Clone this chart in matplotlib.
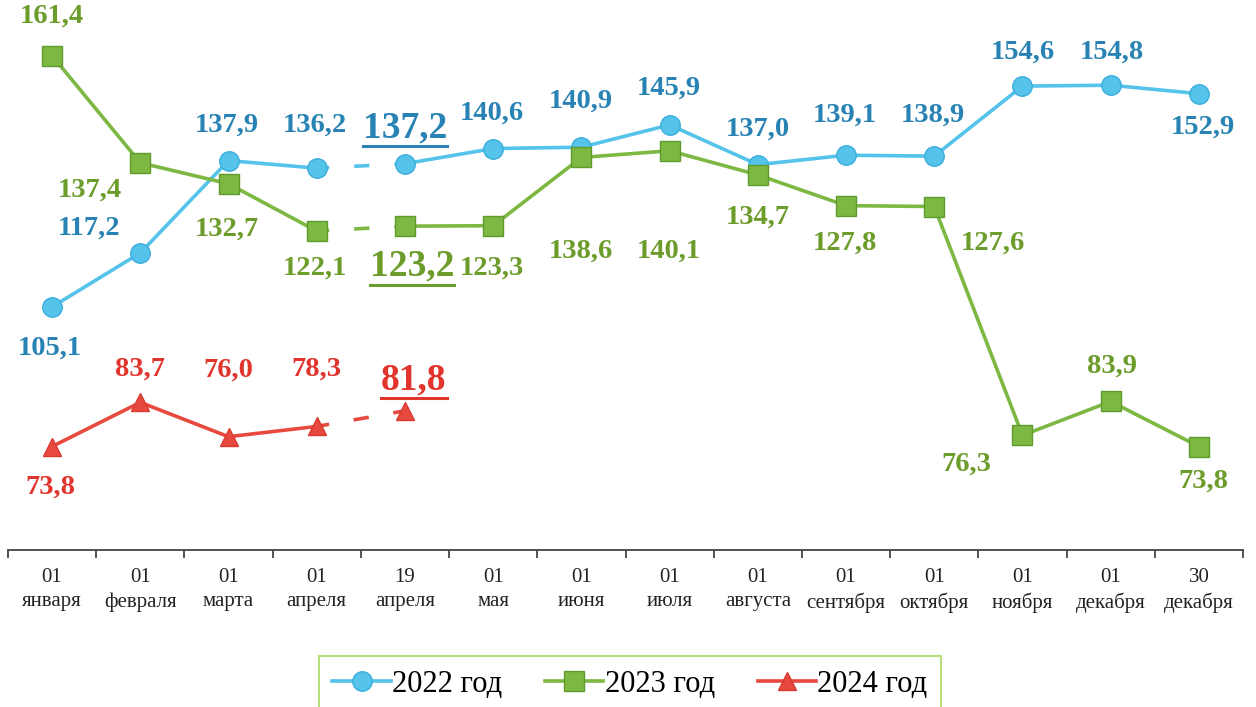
import matplotlib
matplotlib.use('Agg')
import matplotlib.pyplot as plt
from matplotlib.lines import Line2D

plt.rcParams['font.family'] = ['Liberation Serif', 'DejaVu Serif']
plt.rcParams['lines.scale_dashes'] = False

# Data
dates = ['01\nянваря', '01\nфевраля', '01\nмарта', '01\nапреля', '19\nапреля', '01\nмая', '01\nиюня',
         '01\nиюля', '01\nавгуста', '01\nсентября', '01\nоктября', '01\nноября', '01\nдекабря', '30\nдекабря']
v2022 = [105.1, 117.2, 137.9, 136.2, 137.2, 140.6, 140.9, 145.9, 137.0, 139.1, 138.9, 154.6, 154.8, 152.9]
v2023 = [161.4, 137.4, 132.7, 122.1, 123.2, 123.3, 138.6, 140.1, 134.7, 127.8, 127.6, 76.3, 83.9, 73.8]
v2024 = [73.8, 83.7, 76.0, 78.3, 81.8]

# label offsets in pixels (dx, dy), dy positive = up
off2022 = [(-2, -41), (-51, 25), (-2, 35), (-2, 43), (0, 36), (-1, 35), (-1, 46), (-1, 37),
           (0, 35), (-1, 40), (-1, 41), (0, 34), (1, 33), (4, -33)]
off2023 = [(0, 40), (-51, -27), (-2, -45), (-2, -37), (7, -40), (-1, -42), (-1, -94), (-1, -100),
           (0, -42), (-1, -38), (59, -37), (-56, -29), (1, 35), (4, -35)]
off2024 = [(-2, -41), (0, 33), (0, 67), (0, 57), (9, 31)]

series = [
    ('2022 год', v2022, off2022, 'o', '#55C3EA', '#3AAEDC', '#2883B4'),
    ('2023 год', v2023, off2023, 's', '#7DB843', '#5F9A2C', '#6C9C2A'),
    ('2024 год', v2024, off2024, '^', '#E8493E', '#D83A30', '#E0342C'),
]
special = 4  # 19 апреля: underlined, larger labels

fig = plt.figure(figsize=(12.56, 7.07), dpi=100)
ax = fig.add_axes([8 / 1256, 1 - 550 / 707, 1235 / 1256, 550 / 707])
ax.set_xlim(-0.5, 13.5)
ax.set_ylim(50.6, 173.9)

underlined = []
handles = []
for name, vals, offs, mk, col, edge, tcol in series:
    x = list(range(len(vals)))
    kw = dict(color=col, lw=2.6, marker=mk, markersize=14 if mk != '^' else 13,
              markerfacecolor=col, markeredgecolor=edge, markeredgewidth=1)
    h, = ax.plot(x[:4], vals[:4], label=name, **kw)
    ax.plot(x[3:5], vals[3:5], color=col, lw=2.6, linestyle=(2, (11, 18)), zorder=1)
    ax.plot(x[4:], vals[4:], **kw)
    handles.append(h)
    for i, v in enumerate(vals):
        dx, dy = offs[i]
        big = i == special
        t = ax.annotate(f'{v:.1f}'.replace('.', ','), (i, v), xytext=(dx, dy),
                        textcoords='offset pixels', ha='center', va='center',
                        fontsize=27 if big else 20.5, fontweight='bold', color=tcol, zorder=5)
        if big:
            underlined.append((t, tcol))

# x axis
ax.set_xticks([i - 0.5 for i in range(15)])
ax.set_xticklabels([])
ax.set_xticks(range(14), minor=True)
ax.set_xticklabels(dates, minor=True, fontsize=15, color='#222222', linespacing=1.35)
ax.tick_params(axis='x', which='major', length=6, width=1.3, color='#444444', direction='out')
ax.tick_params(axis='x', which='minor', length=0, pad=13)
ax.set_yticks([])
for s in ['left', 'right', 'top']:
    ax.spines[s].set_visible(False)
ax.spines['bottom'].set_color('#444444')
ax.spines['bottom'].set_linewidth(1.3)

leg = fig.legend(handles=handles, loc='center', bbox_to_anchor=(630 / 1256, 1 - 684 / 707),
                 ncol=3, fontsize=22, frameon=True, fancybox=False, handlelength=1.9,
                 handletextpad=0.05, columnspacing=1.4, borderpad=0.45, borderaxespad=0)
leg.get_frame().set_edgecolor('#A8D85C')
leg.get_frame().set_linewidth(1.5)

# underline the labels for 19 апреля
fig.canvas.draw()
inv = fig.transFigure.inverted()
for t, c in underlined:
    bb = t.get_window_extent()
    (x0, y0), (x1, _) = inv.transform([(bb.x0, bb.y0 - 1), (bb.x1, bb.y0 - 1)])
    fig.add_artist(Line2D([x0, x1], [y0, y0], color=c, lw=2.2, transform=fig.transFigure))

fig.savefig('out.png', dpi=100, facecolor='white')
